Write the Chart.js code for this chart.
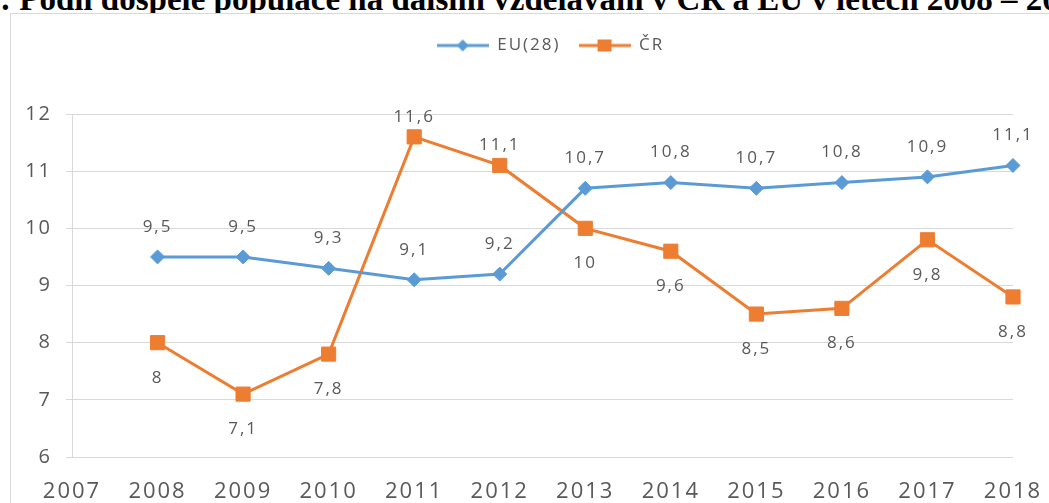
<!DOCTYPE html>
<html lang="cs">
<head>
<meta charset="utf-8">
<title>Podíl dospělé populace na dalším vzdělávání v ČR a EU</title>
<script src="https://cdn.jsdelivr.net/npm/chart.js@4.4.1/dist/chart.umd.min.js"></script>
<style>
  html, body { margin: 0; padding: 0; background: #fff; overflow: hidden; }
  body { width: 1049px; height: 503px; position: relative; }
  #heading {
    position: absolute; left: 0; top: -17px; white-space: nowrap;
    font: bold 33px/33px "Liberation Serif", "Times New Roman", serif; color: #000;
  }
  #frame {
    position: absolute; left: 10px; top: 13px; width: 1062px; height: 500px;
    border: 1px solid #d9d9d9; background: #fff;
  }
  #chart { display: block; }
</style>
</head>
<body>
<div id="heading">: Podíl dospělé populace na dalším vzdělávání v ČR a EU v letech 2008 – 2018</div>
<div id="frame"><canvas id="chart" width="1062" height="500"></canvas></div>
<script>
// roky a hodnoty (% dospělé populace)
const years = [2008, 2009, 2010, 2011, 2012, 2013, 2014, 2015, 2016, 2017, 2018];
const euValues = [9.5, 9.5, 9.3, 9.1, 9.2, 10.7, 10.8, 10.7, 10.8, 10.9, 11.1];
const czValues = [8, 7.1, 7.8, 11.6, 11.1, 10, 9.6, 8.5, 8.6, 9.8, 8.8];

// popisky os
const xTicks = [2007, 2008, 2009, 2010, 2011, 2012, 2013, 2014, 2015, 2016, 2017, 2018];
const yTicks = [6, 7, 8, 9, 10, 11, 12];

// kde stojí popisek hodnoty u bodu
const euLabelSide = ['above', 'above', 'above', 'above', 'above', 'above', 'above', 'above', 'above', 'above', 'above'];
const czLabelSide = ['below', 'below', 'below', 'above', 'above', 'below', 'below', 'below', 'below', 'below', 'below'];

const BLUE = '#5B9BD5';
const ORANGE = '#ED7D31';
const GREY_TEXT = '#595959';

function fmt(v) {
  return String(v).replace('.', ',');
}

// ikonka do legendy: čára se značkou uprostřed
function legendSwatch(color, shape) {
  const c = document.createElement('canvas');
  c.width = 52;
  c.height = 16;
  const g = c.getContext('2d');
  g.strokeStyle = color;
  g.lineWidth = 3;
  g.beginPath();
  g.moveTo(0, 8);
  g.lineTo(52, 8);
  g.stroke();
  g.fillStyle = color;
  if (shape === 'diamond') {
    g.beginPath();
    g.moveTo(26, 2);
    g.lineTo(32, 8);
    g.lineTo(26, 14);
    g.lineTo(20, 8);
    g.closePath();
    g.fill();
  } else {
    g.fillRect(19, 2, 14, 12);
  }
  return c;
}

// popisky hodnot nad/pod body
const pointLabels = {
  id: 'pointLabels',
  afterDatasetsDraw(chart) {
    const ctx = chart.ctx;
    ctx.save();
    ctx.font = '17px "Open Sans"';
    ctx.fillStyle = GREY_TEXT;
    ctx.textAlign = 'center';
    ctx.textBaseline = 'middle';
    chart.data.datasets.forEach((ds, i) => {
      chart.getDatasetMeta(i).data.forEach((pt, j) => {
        const dy = ds.labelSide[j] === 'above' ? ds.labelAbove : ds.labelBelow;
        ctx.fillText(fmt(ds.data[j].y), pt.x, pt.y + dy);
      });
    });
    ctx.restore();
  }
};

// trochu proložené písmo jako v Excelu
const textSpacing = {
  id: 'textSpacing',
  beforeDraw(chart) {
    chart.ctx.letterSpacing = '2px';
  }
};

// větší mezera mezi legendou a grafem
const legendGap = {
  id: 'legendGap',
  beforeInit(chart) {
    const originalFit = chart.legend.fit;
    chart.legend.fit = function () {
      originalFit.bind(chart.legend)();
      this.height = 95;
    };
  }
};

const ctx = document.getElementById('chart').getContext('2d');
new Chart(ctx, {
  type: 'line',
  data: {
    datasets: [
      {
        label: 'EU(28)',
        data: years.map((y, i) => ({ x: y, y: euValues[i] })),
        borderColor: BLUE,
        backgroundColor: BLUE,
        borderWidth: 3,
        pointStyle: 'rectRot',
        pointRadius: 7,
        pointBorderWidth: 1,
        pointBorderColor: BLUE,
        pointBackgroundColor: BLUE,
        tension: 0,
        clip: false,
        labelSide: euLabelSide,
        labelAbove: -30,
        labelBelow: 35,
        swatch: legendSwatch(BLUE, 'diamond'),
      },
      {
        label: 'ČR',
        data: years.map((y, i) => ({ x: y, y: czValues[i] })),
        borderColor: ORANGE,
        backgroundColor: ORANGE,
        borderWidth: 3,
        pointStyle: 'rect',
        pointRadius: 10,
        pointBorderWidth: 1,
        pointBorderColor: ORANGE,
        pointBackgroundColor: ORANGE,
        tension: 0,
        clip: false,
        labelSide: czLabelSide,
        labelAbove: -20,
        labelBelow: 35,
        swatch: legendSwatch(ORANGE, 'square'),
      },
    ],
  },
  options: {
    responsive: false,
    animation: false,
    events: [],
    layout: {
      padding: { left: 0, right: 60, top: 5, bottom: 0 },
    },
    scales: {
      x: {
        type: 'linear',
        min: 2007,
        max: 2018,
        afterBuildTicks: (scale) => {
          scale.ticks = xTicks.map((v) => ({ value: v }));
        },
        afterFit: (scale) => {
          scale.height = 57;
        },
        grid: { display: false },
        border: { display: false },
        ticks: {
          padding: 14,
          color: GREY_TEXT,
          font: { family: 'Open Sans', size: 22 },
          maxRotation: 0,
          autoSkip: false,
          callback: (v) => String(v),
        },
      },
      y: {
        min: 6,
        max: 12,
        afterBuildTicks: (scale) => {
          scale.ticks = yTicks.map((v) => ({ value: v }));
        },
        afterFit: (scale) => {
          scale.width = 61;
        },
        grid: { color: '#d9d9d9', lineWidth: 1, tickLength: 6 },
        border: { display: true, color: '#d9d9d9', width: 1 },
        ticks: {
          padding: 14,
          color: GREY_TEXT,
          font: { family: 'Open Sans', size: 20 },
          callback: (v) => String(v),
        },
      },
    },
    plugins: {
      legend: {
        position: 'top',
        // legenda centrovaná nad plochou grafu, ne nad celým plátnem
        fullSize: false,
        labels: {
          usePointStyle: true,
          pointStyleWidth: 52,
          padding: 18,
          color: GREY_TEXT,
          font: { family: 'Open Sans', size: 17 },
          generateLabels: (chart) =>
            chart.data.datasets.map((ds, i) => ({
              text: ds.label,
              pointStyle: ds.swatch,
              fillStyle: ds.borderColor,
              strokeStyle: ds.borderColor,
              lineWidth: 0,
              fontColor: GREY_TEXT,
              hidden: false,
              datasetIndex: i,
            })),
        },
      },
      tooltip: { enabled: false },
    },
  },
  plugins: [textSpacing, legendGap, pointLabels],
});
</script>
</body>
</html>
